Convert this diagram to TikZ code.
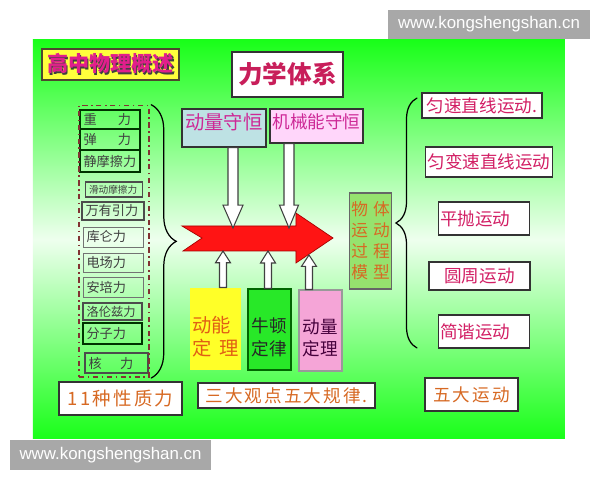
\documentclass[tikz,border=0pt]{standalone}
\usepackage{fontspec}
\setmainfont{Noto Sans CJK SC}
\newfontfamily\spaced[LetterSpace=12]{Noto Sans CJK SC}
\newfontfamily\wmfont{Liberation Sans}
\usetikzlibrary{calc,fit,decorations.pathreplacing}

\definecolor{bggreen}{RGB}{25,255,25}
\definecolor{bgpale}{RGB}{238,255,238}
\definecolor{wmgray}{RGB}{168,168,168}
\definecolor{titleyellow}{RGB}{255,255,60}
\definecolor{titlepink}{RGB}{225,30,140}
\definecolor{sysred}{RGB}{200,30,90}
\definecolor{lawpink}{RGB}{205,40,150}
\definecolor{lightblue}{RGB}{190,226,228}
\definecolor{lightpink}{RGB}{255,214,250}
\definecolor{modelgreen}{RGB}{150,226,110}
\definecolor{orangetext}{RGB}{215,105,35}
\definecolor{kintext}{RGB}{225,95,20}
\definecolor{kinyellow}{RGB}{255,255,40}
\definecolor{newtgreen}{RGB}{40,232,40}
\definecolor{imppink}{RGB}{245,165,215}
\definecolor{imptext}{RGB}{70,0,60}
\definecolor{arrowred}{RGB}{255,20,20}
\definecolor{motionred}{RGB}{210,30,100}
\definecolor{dashred}{RGB}{130,50,50}

\newcommand\shadowed[1]{\rlap{\kern0.8pt\raisebox{-0.8pt}{\color{black!75}#1}}#1}
% hollow arrow: start, tip, half shaft, half head, head length
\newcommand\hollowarrow[5]{%
  \draw[hollow] let \p1=(#1), \p2=(#2), \p3=($(#2)!#5!(#1)$) in
    (\x2-#3,\y1) -- (\x2-#3,\y3) -- (\x2-#4,\y3) -- (\x2,\y2)
    -- (\x2+#4,\y3) -- (\x2+#3,\y3) -- (\x2+#3,\y1) -- cycle;}

\begin{document}
\begin{tikzpicture}[x=0.02cm, y=-0.02cm,
    box/.style={draw=black!80, line width=0.8pt, inner sep=1pt},
    forcebox/.style={draw=black!55, line width=0.5pt, text=black!75, align=left,
      inner xsep=2pt, inner ysep=0pt, font=\fontsize{7.5}{8}\selectfont},
    heavyforce/.style={forcebox, draw=black!80!green, line width=1.1pt},
    midforce/.style={forcebox, draw=black!70, line width=0.8pt},
    motionbox/.style={box, fill=white, text=motionred, font=\fontsize{10}{12}\selectfont},
    sumbox/.style={box, fill=white, text=orangetext},
    lawbox/.style={line width=0.6pt},
    lawtext/.style={align=left, font=\fontsize{10}{13}\selectfont, inner sep=0pt},
    hollow/.style={draw=black!75, fill=white, line width=0.6pt},
    curly/.style={decorate, decoration={brace, amplitude=#1}, line width=0.7pt, line cap=round},
    dashbox/.style={draw=dashred, line width=0.9pt, dash dot, inner xsep=0pt, inner ysep=2pt},
    watermark/.style={fill=wmgray, text=white, inner sep=0pt, font=\wmfont\fontsize{9.6}{12}\selectfont}]

    % Background
    \fill[white] (0,0) rectangle (600,480);
    \shade[top color=bggreen, bottom color=bggreen, middle color=bgpale] (33,40) rectangle (565,439);
    \useasboundingbox (0,0) rectangle (600,480);

    % Title and system
    \node[box, fill=titleyellow, draw=black!60!olive, line width=1pt, minimum width=27.4mm, minimum height=6.2mm,
      text=titlepink, font=\bfseries\fontsize{12}{14}\selectfont] (title) at (110.5,64.5) {\shadowed{高中物理概述}};
    \node[box, fill=white, minimum width=22.2mm, minimum height=9mm, text=sysred,
      font=\bfseries\fontsize{14}{16}\selectfont] (system) at (287.5,74.5) {力学体系};

    % Conservation laws
    \node[box, fill=lightblue, minimum width=16.8mm, minimum height=7.6mm, text height=3mm, text depth=2.4mm,
      text=lawpink, font=\fontsize{11}{13}\selectfont] (mom) at (224,128) {动量守恒};
    \node[box, fill=lightpink, minimum width=18.6mm, minimum height=6.8mm, text height=3mm, text depth=2mm,
      text=lawpink, font=\fontsize{10}{12}\selectfont] (energy) at (316.5,126) {机械能守恒};

    % Forces
    \node[heavyforce, text width=10.6mm, minimum height=3.8mm] (gravity) at (110,119.5) {重\hspace{1.6em}力};
    \node[heavyforce, text width=10.6mm, minimum height=4.2mm] (elastic) at (110,139.5) {弹\hspace{1.6em}力};
    \node[heavyforce, text width=10.6mm, minimum height=4.4mm] (staticfr) at (110,161) {静摩擦力};
    \node[midforce, text width=10mm, minimum height=3mm, font=\fontsize{5.5}{6}\selectfont] (slidingfr) at (114,189.5) {滑动摩擦力};
    \node[midforce, text width=11mm, minimum height=3.6mm] (universal) at (113,211) {万有引力};
    \node[forcebox, text width=10.6mm, minimum height=4mm] (coulomb) at (113,237) {库仑力};
    \node[forcebox, text width=10.6mm, minimum height=3.8mm] (efield) at (113,262.5) {电场力};
    \node[forcebox, text width=10.6mm, minimum height=4mm] (ampere) at (113,287) {安培力};
    \node[midforce, text width=10.4mm, minimum height=3.4mm, font=\fontsize{7}{8}\selectfont] (lorentz) at (112.5,311.5) {洛伦兹力};
    \node[heavyforce, text width=10.4mm, minimum height=4.2mm] (molecular) at (112.5,333.5) {分子力};
    \node[midforce, text width=11.2mm, minimum height=4mm] (nuclear) at (116.5,363) {核\hspace{1.4em}力};
    \node[dashbox, fit=(gravity)(universal)(nuclear)] (forces) {};
    \draw[curly=5mm] ([xshift=1pt]forces.north east) -- ([xshift=1pt]forces.south east);

    % Model of motion
    \node[box, fill=modelgreen, draw=black!60, minimum width=8.2mm, minimum height=19.2mm, text=orangetext,
      align=center, font=\fontsize{9.5}{11.9}\selectfont] (model) at (370.5,241)
      {物\hspace{0.3em}体\\运\hspace{0.3em}动\\过\hspace{0.3em}程\\模\hspace{0.3em}型};

    % Theorems
    \node[lawbox, fill=kinyellow, minimum width=10.2mm, minimum height=16.4mm,
      label={[lawtext, text=kintext, font=\fontsize{11}{13}\selectfont, yshift=-1.5mm]center:{动能\\定\hspace{0.4em}理}}] (kinetic) at (215.5,329) {};
    \node[lawbox, draw=green!40!black, fill=newtgreen, minimum width=8.6mm, minimum height=16.2mm,
      label={[lawtext, text=black!85, yshift=-1.5mm]center:{牛顿\\定律}}] (newton) at (269.5,329.5) {};
    \node[lawbox, draw=black!40, fill=imppink, minimum width=8.6mm, minimum height=16.2mm,
      label={[lawtext, text=imptext, yshift=-1.5mm]center:{动量\\定理}}] (impulse) at (320.5,330.5) {};

    % Big arrow
    \fill[arrowred, draw=red!65!black, line width=0.4pt] (182,226) -- (296,226) -- (296,213) -- (333,238)
      -- (296,263) -- (296,251) -- (183,251) -- (202,238) -- cycle;
    \coordinate (momtip) at (233,228);
    \coordinate (energytip) at (289,228);
    \coordinate (kintip) at (223,251);
    \coordinate (newtip) at (268,251);
    \coordinate (imptip) at (309,255);
    \hollowarrow{mom.south}{momtip}{1mm}{2mm}{4.6mm}
    \hollowarrow{energy.south}{energytip}{1mm}{1.9mm}{4.8mm}
    \hollowarrow{kinetic.north}{kintip}{0.7mm}{1.5mm}{2.4mm}
    \hollowarrow{newton.north}{newtip}{0.7mm}{1.5mm}{2.4mm}
    \hollowarrow{impulse.north}{imptip}{0.7mm}{1.5mm}{2.4mm}

    % Motions
    \coordinate (rbtop) at (417,98);
    \coordinate (rbbot) at (417,348);
    \draw[curly=4.2mm] (rbbot) -- (rbtop);
    \node[motionbox, minimum width=24mm, minimum height=5mm] (uniform) at (482,105.5) {匀速直线运动.};
    \node[motionbox, minimum width=25.2mm, minimum height=6mm] (accel) at (489,162) {匀变速直线运动};
    \node[motionbox, text width=17.6mm, align=left, minimum height=6.6mm] (projectile) at (484,218.5) {平抛运动};
    \node[motionbox, minimum width=20.2mm, minimum height=5.6mm] (circular) at (479.5,276) {圆周运动};
    \node[motionbox, text width=17.6mm, align=left, minimum height=6.6mm] (harmonic) at (484,331.5) {简谐运动};

    % Summaries
    \node[sumbox, minimum width=24.6mm, minimum height=6.6mm, font=\spaced\fontsize{10.5}{12}\selectfont] (kinds) at (120.5,398.5) {11种性质力};
    \node[sumbox, minimum width=35.4mm, minimum height=5mm, font=\spaced\fontsize{10}{12}\selectfont] (views) at (286.5,395.5) {三大观点五大规律.};
    \node[sumbox, minimum width=18.6mm, minimum height=6.6mm, font=\spaced\fontsize{10}{12}\selectfont] (five) at (471.5,394.5) {五大运动};

    % Watermarks
    \node[watermark, minimum width=40.4mm, minimum height=5.8mm] (wmtop) at (489,24.5) {www.kongshengshan.cn};
    \node[watermark, minimum width=40.2mm, minimum height=6mm] (wmbot) at (110.5,455) {www.kongshengshan.cn};
\end{tikzpicture}
\end{document}
